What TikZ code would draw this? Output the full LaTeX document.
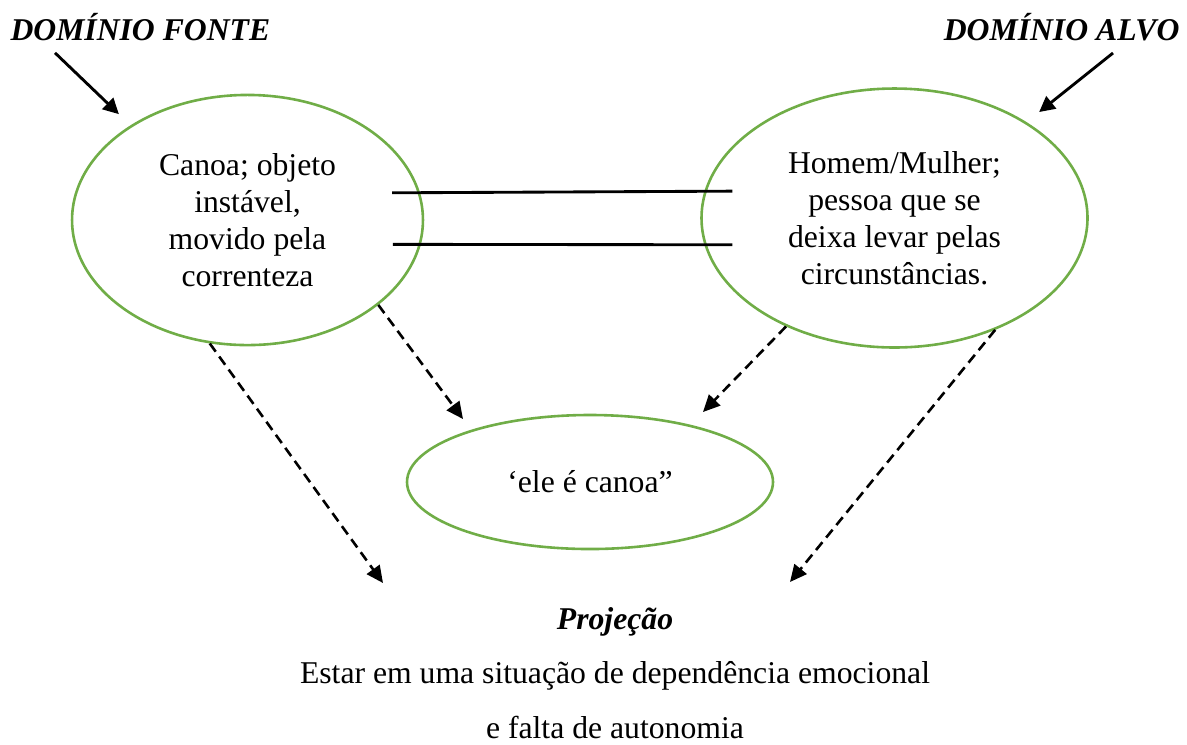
\documentclass[tikz,border=0pt]{standalone}
\usepackage{fontspec}
\setmainfont{Liberation Serif}
\usetikzlibrary{shapes.geometric,arrows.meta}
\definecolor{verde}{RGB}{112,173,71}

\begin{document}
\begin{tikzpicture}[x=0.385pt,y=-0.385pt,
  elipse/.style={ellipse,draw=verde,line width=1pt,inner sep=0pt,align=center,
    font=\fontsize{12.2}{14.25}\selectfont},
  seta/.style={-{Triangle[length=6pt,width=6pt]},line width=1.1pt},
  tracejada/.style={-{Triangle[length=6.5pt,width=6pt]},line width=1pt,
    dash pattern=on 3.9pt off 2.3pt},
  liga/.style={line width=1.1pt,shorten <=-10.8pt,shorten >=-10.8pt}]
\useasboundingbox (0,0) rectangle (1187,744);
\tikzset{font=\fontsize{12.2}{14.25}\selectfont}
% titles of the two domains
\node[anchor=base west,inner sep=0pt] (lblfonte) at (10,40) {\textbf{\textit{DOMÍNIO FONTE}}};
\node[anchor=base east,inner sep=0pt] (lblalvo) at (1180,40) {\textbf{\textit{DOMÍNIO ALVO}}};
% the three ellipses
\node[elipse,minimum width=135.1pt,minimum height=96.3pt] (fonte) at (247.5,220)
  {Canoa; objeto\\instável,\\movido pela\\correnteza};
\node[elipse,minimum width=148.6pt,minimum height=99.7pt] (alvo) at (894.5,218)
  {Homem/Mulher;\\pessoa que se\\deixa levar pelas\\circunstâncias.};
\node[elipse,minimum width=140.9pt,minimum height=51.6pt] (meta) at (590,482)
  {‘ele é canoa”};
\node[align=center,font=\fontsize{12.2}{21}\selectfont] (proj) at (615,673)
  {\textbf{\textit{Projeção}}\\Estar em uma situação de dependência emocional\\e falta de autonomia};
% free ends of the dashed arrows
\coordinate (p1) at (463,419);
\coordinate (p2) at (703,412);
\coordinate (p3) at (383,583);
\coordinate (p4) at (790,582);
\draw[seta,shorten >=6.2pt] ([shift={(45,12)}]lblfonte.south west) -- (fonte.141.5);
\draw[seta,shorten >=6.2pt] ([shift={(-67,12)}]lblalvo.south east) -- (alvo.36.1);
\draw[liga] (fonte.9) -- (alvo.172); % mapping lines
\draw[liga] (fonte.-8.6) -- (alvo.188);
\draw[tracejada] (fonte.-33.5) -- (p1);
\draw[tracejada] (alvo.-135.3) -- (p2);
\draw[tracejada] (fonte.-107.5) -- (p3);
\draw[tracejada] (alvo.-48) -- (p4);
\end{tikzpicture}
\end{document}
